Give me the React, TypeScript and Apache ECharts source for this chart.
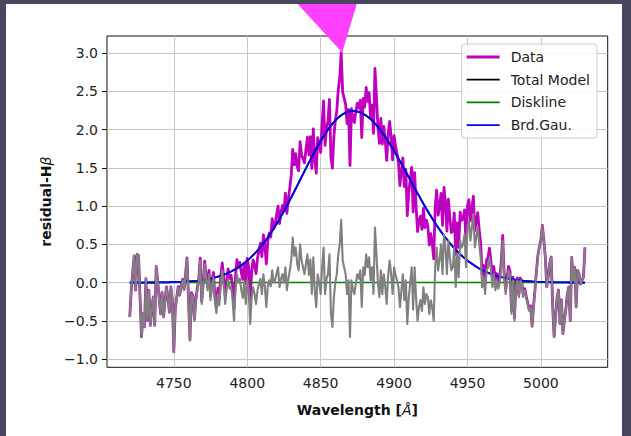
import React, { useEffect, useRef } from "react";
import * as echarts from "echarts";

// Wavelength sampling of the spectrum (Å)
const WL_START = 4720;
const WL_STEP = 1;

// Residual (Data - Total Model), 4720..5030 Å
const residualValues = [
  -0.45, -0.1, 0.13, 0.35, -0.1, 0.37, 0.35, -0.2, -0.71, -0.41,
  -0.58, 0.05, -0.5, -0.1, -0.56, -0.35, -0.19, -0.56, 0.21, 0.03,
  -0.2, -0.41, -0.13, -0.45, -0.25, -0.06, -0.2, -0.39, -0.06, -0.23,
  -0.91, -0.34, -0.2, -0.06, -0.17, -0.05, 0.03, -0.1, 0.1, 0.31,
  -0.23, -0.76, -0.15, -0.19, -0.5, -0.25, -0.1, 0.03, 0.29, -0.28,
  -0.05, 0.24, 0.05, -0.1, 0.11, -0.23, -0.05, 0.07, -0.25, -0.4,
  -0.15, -0.3, 0.0, 0.16, -0.05, -0.28, -0.1, 0.05, -0.08, -0.05,
  -0.22, -0.5, -0.1, 0.11, 0.0, 0.05, -0.1, -0.2, 0.0, -0.28,
  0.03, -0.1, -0.54, -0.2, -0.06, -0.15, -0.28, -0.1, -0.02, 0.05,
  -0.15, 0.11, -0.05, -0.32, -0.05, 0.03, -0.05, 0.16, 0.0, 0.03,
  0.12, 0.2, -0.06, 0.05, 0.11, 0.0, 0.2, -0.1, 0.05, 0.16,
  0.3, 0.59, 0.35, 0.46, 0.25, 0.16, 0.5, 0.29, 0.2, 0.11,
  0.25, 0.37, 0.1, 0.3, -0.15, 0.33, -0.1, -0.32, 0.11, 0.0,
  -0.15, 0.2, 0.46, -0.15, 0.05, 0.11, 0.37, -0.41, -0.58, -0.19,
  0.0, 0.11, 0.37, 0.5, 0.82, 0.29, 0.2, 0.11, -0.15, 0.03,
  -0.71, 0.03, -0.1, -0.15, 0.0, 0.11, 0.05, 0.16, -0.32, 0.2,
  0.1, 0.37, 0.2, 0.33, 0.03, 0.2, -0.15, 0.72, 0.37, 0.0,
  -0.19, 0.16, -0.15, 0.11, -0.05, -0.28, 0.1, 0.29, 0.11, -0.15,
  0.2, 0.1, 0.03, -0.06, -0.32, -0.1, 0.11, -0.23, 0.03, -0.54,
  -0.2, 0.0, 0.2, -0.35, 0.2, -0.2, -0.5, -0.32, -0.23, -0.37,
  -0.06, -0.28, -0.15, -0.19, -0.41, -0.23, -0.32, -0.5, 0.2, 0.46,
  0.16, 0.3, 0.5, 0.11, 0.63, 0.46, 0.11, 0.55, 0.33, 0.16,
  0.2, 0.46, -0.06, 0.37, 0.07, 0.55, 0.46, 0.5, 0.63, 0.2,
  0.72, 0.81, 0.55, 0.72, 0.9, 0.46, 0.6, 0.72, 0.5, 0.33,
  -0.06, 0.07, -0.15, 0.16, 0.2, 0.33, 0.16, -0.06, 0.11, -0.1,
  0.03, -0.08, 0.0, 0.2, 0.55, 0.05, -0.15, 0.03, 0.16, 0.1,
  -0.41, 0.03, -0.5, -0.06, 0.03, -0.19, 0.03, -0.02, -0.19, -0.1,
  -0.2, -0.28, -0.37, -0.32, -0.58, -0.32, -0.1, 0.15, 0.35, 0.46,
  0.55, 0.74, 0.55, 0.33, -0.06, 0.07, 0.25, 0.33, -0.3, -0.71,
  -0.45, -0.2, -0.1, -0.54, -0.23, -0.67, -0.5, -0.35, -0.15, -0.06,
  -0.5, 0.33, 0.03, 0.2, -0.32, 0.16, 0.11, -0.02, 0.03, 0.07,
  0.46,
];

// Broad Gaussian component (blue), 4720..5030 Å
const brdGauValues = [
  0.0002, 0.0003, 0.0003, 0.0003, 0.0004, 0.0004, 0.0005, 0.0005, 0.0006, 0.0007,
  0.0008, 0.0008, 0.0009, 0.0011, 0.0012, 0.0013, 0.0015, 0.0016, 0.0018, 0.002,
  0.0022, 0.0025, 0.0027, 0.003, 0.0034, 0.0037, 0.0041, 0.0045, 0.005, 0.0055,
  0.0061, 0.0067, 0.0074, 0.0082, 0.009, 0.0099, 0.0108, 0.0118, 0.0129, 0.0142,
  0.0155, 0.0169, 0.0184, 0.0201, 0.0219, 0.0239, 0.026, 0.0283, 0.0307, 0.0334,
  0.0361, 0.0392, 0.0424, 0.046, 0.0497, 0.0537, 0.0579, 0.0626, 0.0674, 0.0726,
  0.078, 0.084, 0.0902, 0.0969, 0.1039, 0.1115, 0.1193, 0.1278, 0.1366, 0.146,
  0.1558, 0.1663, 0.1771, 0.1887, 0.2007, 0.2136, 0.2269, 0.241, 0.2555, 0.271,
  0.2869, 0.3038, 0.3212, 0.3395, 0.3583, 0.3781, 0.3985, 0.4199, 0.442, 0.465,
  0.4885, 0.5131, 0.5381, 0.5643, 0.5909, 0.6186, 0.6468, 0.6761, 0.7058, 0.7366,
  0.7678, 0.7999, 0.8324, 0.8659, 0.8998, 0.9345, 0.9694, 1.0052, 1.0412, 1.078,
  1.1149, 1.1524, 1.1899, 1.2278, 1.2657, 1.304, 1.3423, 1.3807, 1.4191, 1.4573,
  1.4954, 1.5332, 1.5708, 1.6079, 1.6449, 1.6809, 1.7168, 1.7516, 1.7863, 1.8195,
  1.8526, 1.8841, 1.9154, 1.9448, 1.974, 2.0011, 2.0281, 2.0527, 2.0771, 2.0988,
  2.1204, 2.1391, 2.1577, 2.1732, 2.1886, 2.2009, 2.2131, 2.222, 2.2308, 2.2362,
  2.2414, 2.2441, 2.245,
  2.2447, 2.242, 2.2382, 2.2329, 2.2261, 2.2179, 2.2082, 2.197, 2.1845, 2.1705,
  2.1549, 2.1386, 2.1204, 2.1014, 2.0807, 2.0593, 2.0363, 2.0126, 1.9874, 1.9616,
  1.9345, 1.9068, 1.878, 1.8486, 1.8182, 1.7873, 1.7555, 1.7233, 1.6904, 1.6572,
  1.6234, 1.5893, 1.5548, 1.5201, 1.4851, 1.45, 1.4147, 1.3794, 1.344, 1.3086,
  1.2734, 1.2382, 1.2033, 1.1684, 1.134, 1.0996, 1.0658, 1.032, 0.999, 0.966,
  0.9338, 0.9017, 0.8706, 0.8395, 0.8094, 0.7794, 0.7505, 0.7217, 0.6941, 0.6665,
  0.6402, 0.6139, 0.5889, 0.5639, 0.5402, 0.5165, 0.4942, 0.4719, 0.4509, 0.4299,
  0.4103, 0.3907, 0.3723, 0.354, 0.3369, 0.3199, 0.3041, 0.2884, 0.2738, 0.2592,
  0.2458, 0.2324, 0.22, 0.2077, 0.1964, 0.1852, 0.1749, 0.1647, 0.1554, 0.1461,
  0.1376, 0.1292, 0.1216, 0.114, 0.1071, 0.1003, 0.0941, 0.088, 0.0825, 0.077,
  0.0721, 0.0672, 0.0628, 0.0584, 0.0545, 0.0507, 0.0473, 0.0439, 0.0409, 0.0379,
  0.0352, 0.0326, 0.0303, 0.028, 0.026, 0.024, 0.0222, 0.0205, 0.0189, 0.0174,
  0.0161, 0.0148, 0.0136, 0.0125, 0.0115, 0.0106, 0.0097, 0.0089, 0.0082, 0.0075,
  0.0069, 0.0063, 0.0058, 0.0053, 0.0048, 0.0044, 0.004, 0.0036, 0.0033, 0.003,
  0.0027, 0.0025, 0.0023, 0.0021, 0.0019, 0.0017, 0.0015, 0.0014, 0.0012, 0.0011,
  0.001, 0.0009, 0.0008, 0.0008, 0.0007, 0.0006, 0.0005, 0.0005,
];

// Diskline component (flat at zero) at the two ends of the range
const disklineValues = [0, 0];

const legendNames = ["Data", "Total Model", "Diskline", "Brd.Gau."];
const legendLineWidths = [2.8, 1.8, 1.8, 1.8];
const xTicks = [4750, 4800, 4850, 4900, 4950, 5000];
const yTicks = [-1.0, -0.5, 0.0, 0.5, 1.0, 1.5, 2.0, 2.5, 3.0];
const X_RANGE = [4704.5, 5045.5];
const Y_RANGE = [-1.108, 3.226];

const FONT = "DejaVu Sans";

export default function App() {
  const ref = useRef<HTMLDivElement>(null);

  useEffect(() => {
    if (!ref.current) return;
    const chart = echarts.init(ref.current, null, { renderer: "svg" });

    const n = Math.min(brdGauValues.length, residualValues.length);
    const wl = Array.from({ length: n }, (_, i) => WL_START + i * WL_STEP);
    const modelPts = wl.map((x, i) => [x, brdGauValues[i]]);
    const totalPts = wl.map((x, i) => [x, brdGauValues[i] + disklineValues[0]]);
    const dataPts = wl.map((x, i) => [
      x,
      +(brdGauValues[i] + residualValues[i]).toFixed(4),
    ]);
    const residPts = wl.map((x, i) => [x, residualValues[i]]);
    const diskPts = [
      [wl[0], disklineValues[0]],
      [wl[wl.length - 1], disklineValues[1]],
    ];
    let peak = dataPts[0];
    for (const p of dataPts) if (p[1] > peak[1]) peak = p;

    const gridLineStyle = { color: "#c6c6c6", width: 1, type: "solid" as const };
    const richName = {
      b: { fontFamily: FONT, fontSize: 14, fontWeight: "bold", color: "#111" },
      i: { fontFamily: FONT, fontSize: 14, fontStyle: "italic", color: "#111" },
    };

    chart.setOption({
      animation: false,
      backgroundColor: "#ffffff",
      textStyle: { fontFamily: FONT },
      grid: {
        left: 101,
        top: 32,
        width: 500.7,
        height: 331.3,
        show: true,
        borderColor: "#111",
        borderWidth: 1,
        backgroundColor: "transparent",
      },
      legend: {
        data: legendNames.map((name, i) => ({
          name,
          icon: `path://M0,0H33V${legendLineWidths[i]}H0Z`,
        })),
        orient: "vertical",
        left: 455.7,
        top: 40,
        z: 20,
        itemWidth: 33,
        itemHeight: 14,
        itemGap: 6.7,
        symbolKeepAspect: true,
        padding: [5, 7, 5, 5],
        backgroundColor: "rgba(255,255,255,0.85)",
        borderColor: "#cccccc",
        borderWidth: 1,
        borderRadius: 3,
        selectedMode: false,
        textStyle: {
          fontFamily: FONT,
          fontSize: 14,
          color: "#222",
          lineHeight: 16,
          padding: [0, 0, 0, 6],
        },
      },
      xAxis: {
        type: "value",
        min: X_RANGE[0],
        max: X_RANGE[1],
        name: "{b|Wavelength [}{i|Å}{b|]}",
        nameLocation: "middle",
        nameGap: 36,
        nameTextStyle: { rich: richName },
        axisLine: { show: false },
        splitLine: { show: false },
        axisTick: {
          show: true,
          length: 5,
          customValues: xTicks,
          lineStyle: { color: "#111", width: 1 },
        },
        axisLabel: {
          customValues: xTicks,
          margin: 9,
          fontFamily: FONT,
          fontSize: 14,
          color: "#222",
          formatter: (v: number) => String(v),
        },
      },
      yAxis: {
        type: "value",
        min: Y_RANGE[0],
        max: Y_RANGE[1],
        name: "{b|residual-H}{i|β}",
        nameLocation: "middle",
        nameGap: 52,
        nameRotate: 90,
        nameTextStyle: { rich: richName },
        axisLine: { show: false },
        splitLine: { show: false },
        axisTick: {
          show: true,
          length: 5,
          customValues: yTicks,
          lineStyle: { color: "#111", width: 1 },
        },
        axisLabel: {
          customValues: yTicks,
          margin: 9,
          fontFamily: FONT,
          fontSize: 14,
          color: "#222",
          formatter: (v: number) => v.toFixed(1).replace("-", "\u2212"),
        },
      },
      series: [
        {
          type: "line",
          name: "__grid",
          data: [],
          z: 1,
          silent: true,
          markLine: {
            z: 1,
            silent: true,
            symbol: ["none", "none"],
            label: { show: false },
            lineStyle: gridLineStyle,
            emphasis: { disabled: true },
            data: [
              ...xTicks.map((v) => ({ xAxis: v })),
              ...yTicks.map((v) => ({ yAxis: v })),
            ],
          },
        },
        {
          type: "line",
          name: "Data",
          data: dataPts,
          symbol: "none",
          z: 2,
          lineStyle: { color: "#bf00bf", width: 2.8, join: "round" },
          itemStyle: { color: "#bf00bf" },
        },
        {
          type: "line",
          name: "Total Model",
          data: totalPts,
          symbol: "none",
          z: 3,
          lineStyle: { color: "#000000", width: 1.8 },
          itemStyle: { color: "#000000" },
        },
        {
          type: "line",
          name: "Diskline",
          data: diskPts,
          symbol: "none",
          z: 4,
          lineStyle: { color: "#008000", width: 1.5 },
          itemStyle: { color: "#008000" },
        },
        {
          type: "line",
          name: "Brd.Gau.",
          data: modelPts,
          symbol: "none",
          z: 5,
          lineStyle: { color: "#0000ff", width: 1.8 },
          itemStyle: { color: "#0000ff" },
        },
        {
          type: "line",
          name: "Residual",
          data: residPts,
          symbol: "none",
          z: 6,
          lineStyle: { color: "#808080", width: 2.1, join: "round" },
          itemStyle: { color: "#808080" },
        },
        {
          type: "custom",
          name: "Peak",
          coordinateSystem: "cartesian2d",
          clip: false,
          silent: true,
          z: 30,
          data: [peak],
          renderItem: (_params: any, api: any) => {
            const p = api.coord([api.value(0), api.value(1)]);
            const tx = p[0] + 1;
            const ty = p[1];
            return {
              type: "polygon",
              shape: {
                points: [
                  [tx, ty],
                  [tx - 87.4, ty - 95.4],
                  [tx + 28.6, ty - 95.4],
                ],
              },
              style: { fill: "#ff40ff" },
            };
          },
        },
      ],
    });

    return () => chart.dispose();
  }, []);

  return (
    <div
      style={{
        position: "fixed",
        left: 0,
        top: 0,
        width: 631,
        height: 436,
        background: "#47475f",
        overflow: "hidden",
      }}
    >
      <div
        style={{
          position: "absolute",
          left: 6,
          top: 4,
          width: 616,
          height: 432,
          background: "#ffffff",
        }}
      >
        <div ref={ref} style={{ width: 616, height: 432 }} />
      </div>
    </div>
  );
}
